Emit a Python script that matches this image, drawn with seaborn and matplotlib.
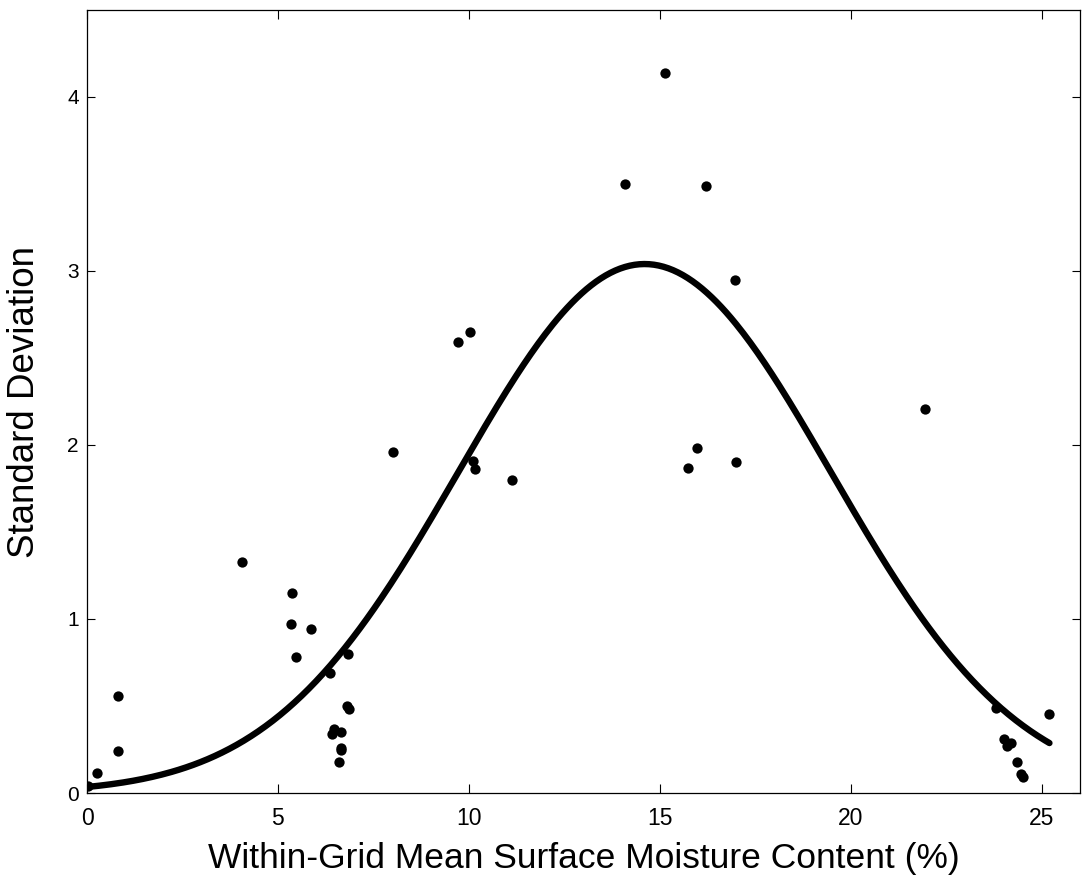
import numpy as np
import pandas as pd
import matplotlib
matplotlib.use("Agg")
import matplotlib.pyplot as plt
import seaborn as sns

# ---- data ----
moisture = [0.03, 0.26, 0.81, 0.81, 4.05, 5.38, 5.35, 5.87, 5.46, 6.84, 6.37,
            6.80, 6.86, 6.48, 6.66, 6.42, 6.66, 6.66, 6.60,
            8.01, 9.71, 10.02, 10.10, 10.16, 11.14,
            14.09, 15.14, 16.20, 16.96, 15.97, 15.74, 17.00, 21.94,
            23.80, 24.00, 24.08, 24.20, 24.36, 24.45, 24.50, 25.20]
std_dev = [0.04, 0.115, 0.56, 0.24, 1.33, 1.15, 0.97, 0.94, 0.78, 0.80, 0.69,
           0.50, 0.48, 0.37, 0.35, 0.34, 0.26, 0.25, 0.18,
           1.96, 2.59, 2.65, 1.91, 1.86, 1.80,
           3.50, 4.14, 3.49, 2.95, 1.98, 1.87, 1.90, 2.205,
           0.49, 0.31, 0.27, 0.285, 0.18, 0.11, 0.09, 0.456]

# Gaussian fit line parameters
fit_amplitude = 3.04
fit_center = 14.6
fit_width = 6.9
fit_range = [0.0, 25.2]

x_ticks = [0, 5, 10, 15, 20, 25]
y_ticks = [0, 1, 2, 3, 4]

sns.set_theme(style="white")
plt.rcParams["font.family"] = ["Liberation Sans", "DejaVu Sans"]
plt.rcParams["text.color"] = "black"
plt.rcParams["axes.labelcolor"] = "black"

fig = plt.figure(figsize=(10.82, 8.8), dpi=100)
ax = fig.add_axes([87 / 1082, 1 - 793 / 880, (1080 - 87) / 1082, (793 - 10) / 880])

df = pd.DataFrame({"x": moisture, "y": std_dev})
xf = np.linspace(fit_range[0], fit_range[1], 400)
yf = fit_amplitude * np.exp(-((xf - fit_center) / fit_width) ** 2)
sns.lineplot(x=xf, y=yf, ax=ax, color="black", linewidth=4.6, zorder=3)
sns.scatterplot(data=df, x="x", y="y", ax=ax, color="black", s=55,
                edgecolor="black", linewidth=0, zorder=4)

ax.set_xlim(0, 26)
ax.set_ylim(0, 4.5)
ax.set_xticks(x_ticks)
ax.set_yticks(y_ticks)
ax.set_xticklabels([str(t) for t in x_ticks], fontsize=16.5)
ax.set_yticklabels([str(t) for t in y_ticks], fontsize=15)
ax.tick_params(axis="x", direction="in", length=6.5, width=0.8, top=True,
               bottom=True, colors="black", pad=10)
ax.tick_params(axis="y", direction="in", length=6, width=0.8, left=True,
               right=True, colors="black", pad=6)
for s in ax.spines.values():
    s.set_color("black")
    s.set_linewidth(0.9)
ax.set_xlabel("Within-Grid Mean Surface Moisture Content (%)", fontsize=25.5,
              labelpad=9)
ax.set_ylabel("Standard Deviation", fontsize=26.5, labelpad=18)
ax.grid(False)

fig.savefig("out.png", dpi=100, facecolor="white")
